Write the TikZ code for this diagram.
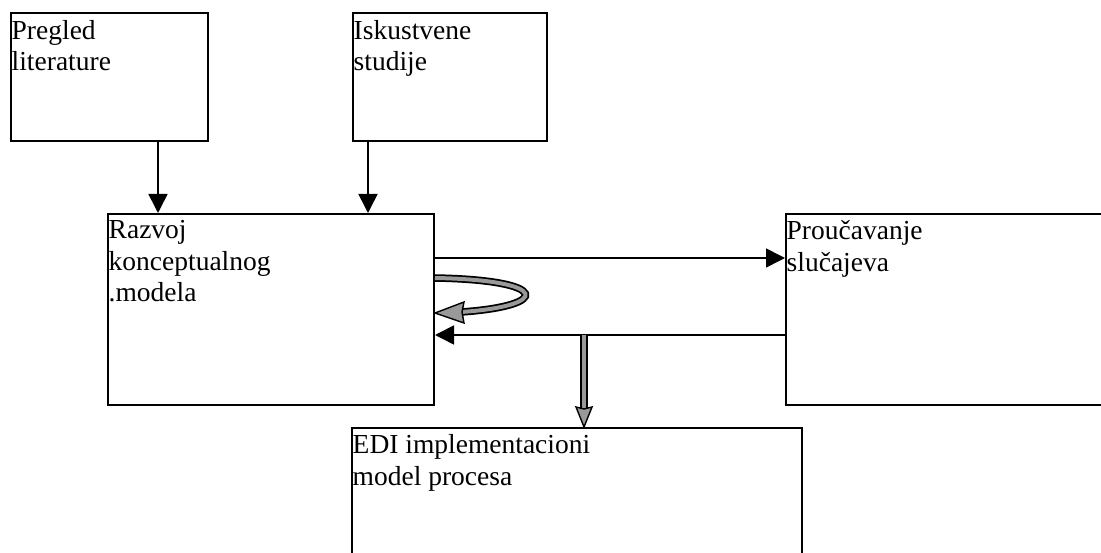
\documentclass[tikz,border=0pt]{standalone}
\usepackage{fontspec}
\setmainfont{Liberation Serif}
\usetikzlibrary{arrows.meta,calc}

\tikzset{
  box/.style={draw=black, line width=2pt, fill=none, inner sep=0pt},
  label text/.style={anchor=north west, inner sep=0pt, align=left,
    font=\fontsize{27.5}{31.5}\selectfont},
  flow/.style={line width=1.6pt, -{Triangle[length=19pt,width=19pt]}},
  fat/.style={line width=7.5pt, black},
  fatcore/.style={line width=4pt, black!40},
  fathead/.style={draw=black, line width=1.4pt, fill=black!40, line join=miter}
}

\newcommand{\firstline}{\rule{0pt}{26.5pt}}

\begin{document}
\begin{tikzpicture}[x=1pt, y=-1pt]
  \useasboundingbox (0,0) rectangle (1101,553);
  \clip (0,0) rectangle (1101,553);

  % boxes
  \node[box, minimum width=197pt, minimum height=128pt, anchor=north west] (lit) at (10,12.5) {};
  \node[box, minimum width=194pt, minimum height=128pt, anchor=north west] (isk) at (352,12.5) {};
  \node[box, minimum width=326pt, minimum height=191pt, anchor=north west] (raz) at (107,213) {};
  \node[box, minimum width=340pt, minimum height=191pt, anchor=north west] (pro) at (785,213) {};
  \node[box, minimum width=450pt, minimum height=160pt, anchor=north west] (edi) at (351,427) {};

  % texts
  \node[label text] (litT) at ($(lit.north west)+(1.5,0)$) {\firstline Pregled\\literature};
  \node[label text] (iskT) at ($(isk.north west)+(1.5,0)$) {\firstline Iskustvene\\studije};
  \node[label text] (razT) at ($(raz.north west)+(1.5,-1)$) {\firstline Razvoj\\konceptualnog\\.modela};
  \node[label text] (proT) at ($(pro.north west)+(1.5,0)$) {\firstline Proučavanje\\slučajeva};
  \node[label text] (ediT) at ($(edi.north west)+(1.5,0)$) {\firstline EDI implementacioni\\model procesa};

  % plain arrows
  \draw[flow] (lit.south west -| 158,0) -- (raz.north west -| 158,0);
  \draw[flow] (isk.south west -| 368,0) -- (raz.north west -| 368,0);
  \draw[flow] (raz.east |- 0,258) -- (pro.west |- 0,258);
  \draw[flow] (pro.west |- 0,335) -- (raz.east |- 0,335);

  % self loop on the model box
  \coordinate (loopA) at (raz.east |- 0,278);
  \coordinate (loopB) at (461,312);
  \coordinate (loopTip) at (raz.east |- 0,313);
  \draw[fat] (loopA) .. controls (551,280) and (551,306) .. (loopB);
  \draw[fatcore] (loopA) .. controls (551,280) and (551,306) .. (loopB);
  \draw[fathead] (loopTip) -- (464,302) -- (462,312) -- (464,323) -- cycle;

  % hollow arrow down to the process model
  \coordinate (downA) at (584,335);
  \coordinate (downB) at (584,409);
  \draw[fat] (downA) -- (downB);
  \draw[fatcore] (downA) -- ($(downB)+(0,2)$);
  \draw[fathead] (edi.north -| downA) -- (576,407) -- (584,409) -- (592,407) -- cycle;
\end{tikzpicture}
\end{document}
